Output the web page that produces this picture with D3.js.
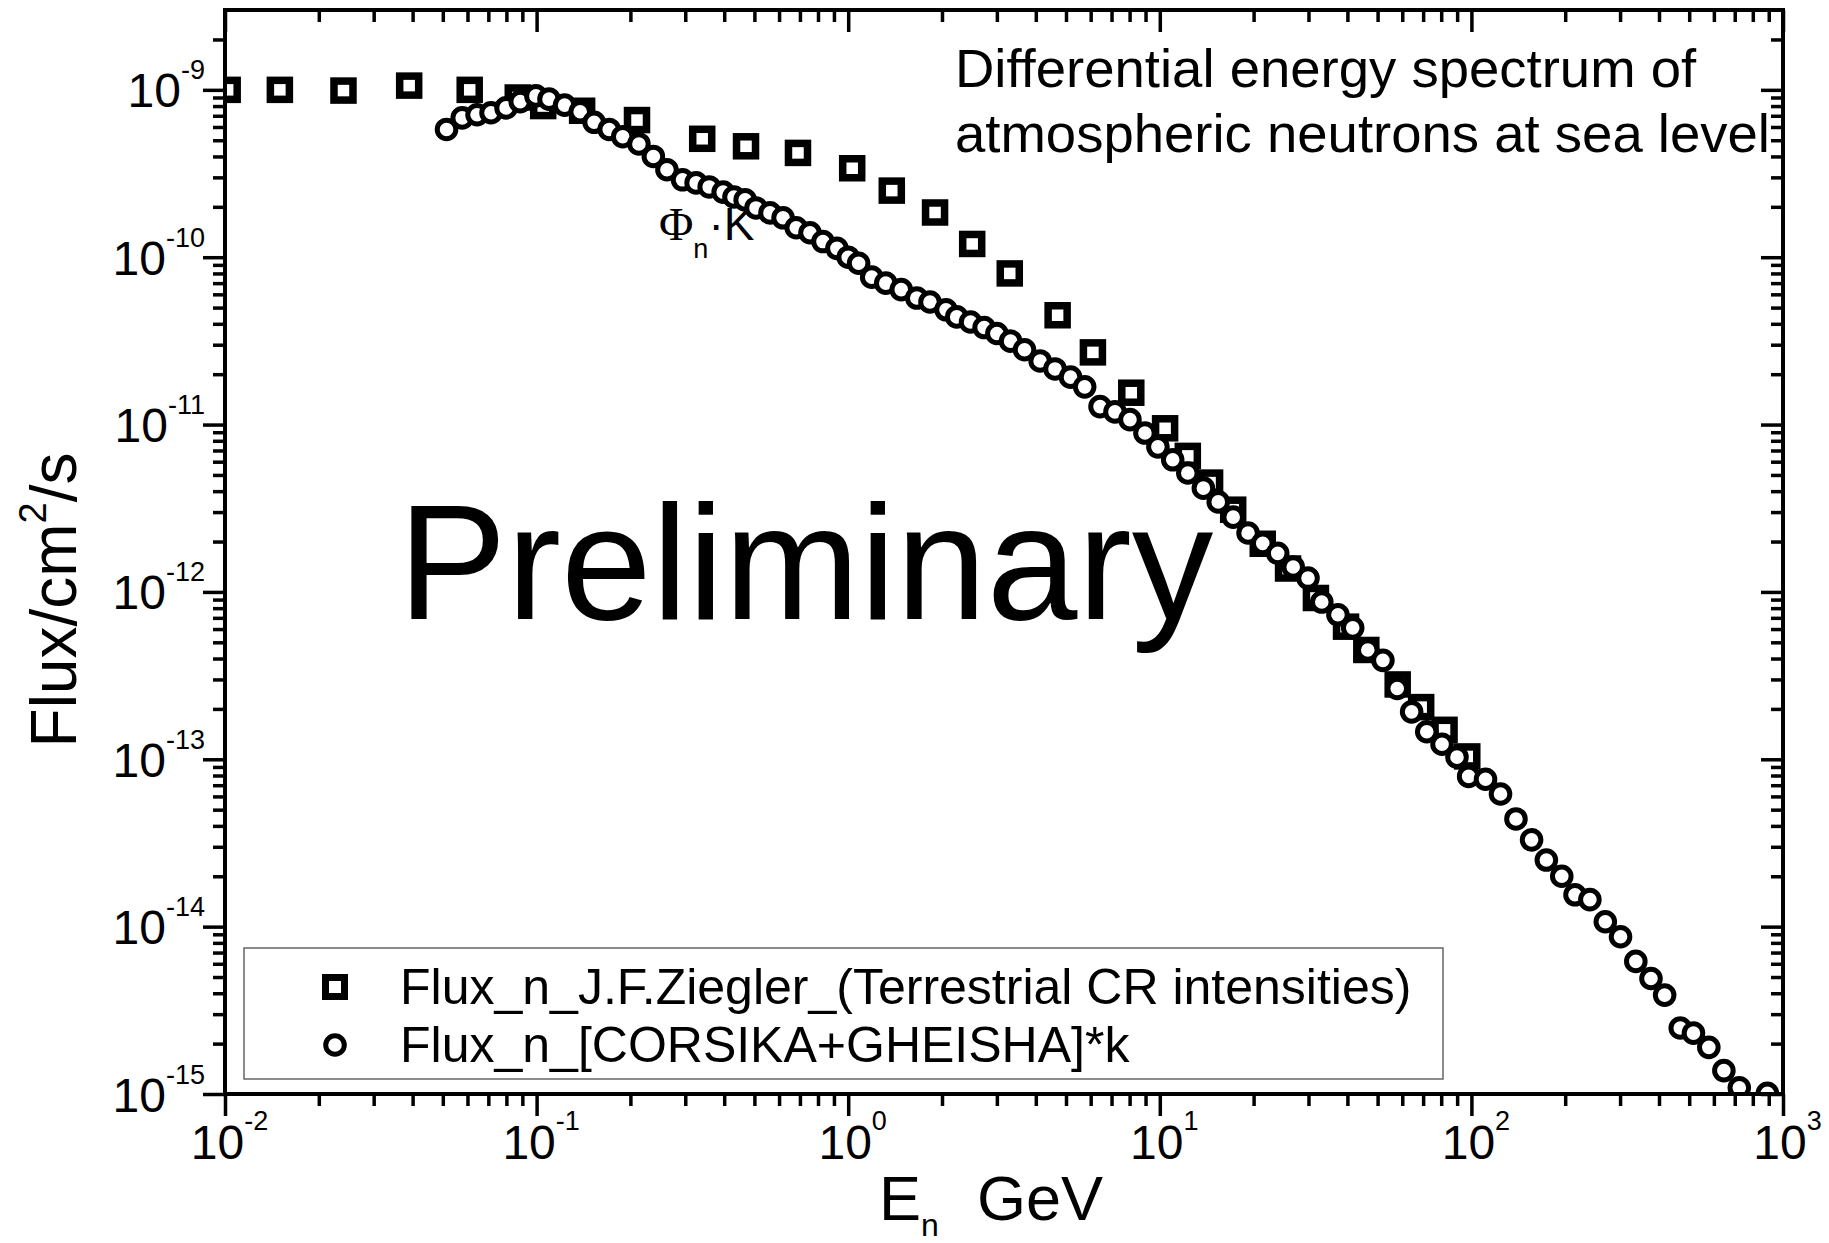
<html><head>
<title>Neutron spectrum at sea level</title>
<script src="https://d3js.org/d3.v7.min.js"></script>
<style>
  body { margin: 0; background: #fff; }
  text { font-family: "Liberation Sans", Arial, sans-serif; fill: #000; }
</style>
</head>
<body>
<svg id="chart" width="1829" height="1243"></svg>
<script>

// Ziegler points (squares)
const zieglerE    = [0.0102, 0.015, 0.024, 0.039, 0.061, 0.087, 0.105, 0.14, 0.21, 0.34, 0.47, 0.69, 1.03, 1.38, 1.9, 2.5, 3.3, 4.7, 6.1, 8.1, 10.4, 12.3, 14.5, 17.2, 21.4, 25.8, 31.7, 39.6, 46, 58, 69, 82, 97];
const zieglerFlux = [1.0e-9, 1.0e-9, 0.99e-9, 1.06e-9, 1.0e-9, 0.9e-9, 0.8e-9, 0.75e-9, 0.66e-9, 5.1e-10, 4.6e-10, 4.2e-10, 3.4e-10, 2.5e-10, 1.85e-10, 1.2e-10, 8.0e-11, 4.5e-11, 2.7e-11, 1.55e-11, 9.5e-12, 6.5e-12, 4.5e-12, 3.1e-12, 1.94e-12, 1.38e-12, 9.2e-13, 6.2e-13, 4.5e-13, 2.8e-13, 2.05e-13, 1.5e-13, 1.04e-13];

// CORSIKA+GHEISHA points (circles)
const corsikaE = [0.0514, 0.0577, 0.0644, 0.0714, 0.0798, 0.0886, 0.0995, 0.1096, 0.123, 0.138,
  0.153, 0.171, 0.189, 0.213, 0.237, 0.262, 0.294, 0.325, 0.358, 0.397,
  0.43, 0.467, 0.506, 0.561, 0.618, 0.681, 0.754, 0.83, 0.92, 1.0,
  1.08, 1.19, 1.32, 1.48, 1.66, 1.83, 2.06, 2.23, 2.47, 2.73,
  3.0, 3.32, 3.68, 4.13, 4.61, 5.17, 5.74, 6.43, 7.18, 8.02,
  8.96, 9.86, 11.0, 12.3, 13.8, 15.4, 17.2, 19.2, 21.4, 23.9,
  26.8, 29.9, 33.1, 37.3, 41.6, 46.5, 52, 57.8, 64.3, 71.9,
  80.5, 89.9, 98, 111, 124, 139, 156, 174, 195, 215,
  240, 269, 301, 337, 377, 417, 468, 516, 578, 646, 724, 891];
const corsikaFlux = [5.8e-10, 6.8e-10, 7.1e-10, 7.3e-10, 7.8e-10, 8.5e-10, 9.2e-10, 8.8e-10, 8.1e-10, 7.4e-10,
  6.4e-10, 5.8e-10, 5.25e-10, 4.75e-10, 4.0e-10, 3.33e-10, 2.9e-10, 2.78e-10, 2.63e-10, 2.45e-10,
  2.29e-10, 2.2e-10, 1.97e-10, 1.84e-10, 1.72e-10, 1.5e-10, 1.4e-10, 1.24e-10, 1.13e-10, 1.0e-10,
  9.2e-11, 7.6e-11, 7.0e-11, 6.4e-11, 5.7e-11, 5.4e-11, 4.85e-11, 4.4e-11, 4.1e-11, 3.8e-11,
  3.5e-11, 3.15e-11, 2.8e-11, 2.4e-11, 2.15e-11, 1.92e-11, 1.68e-11, 1.28e-11, 1.19e-11, 1.07e-11,
  8.9e-12, 7.36e-12, 6.16e-12, 5.14e-12, 4.17e-12, 3.45e-12, 2.8e-12, 2.25e-12, 1.95e-12, 1.7e-12,
  1.41e-12, 1.21e-12, 8.7e-13, 7.3e-13, 6.1e-13, 4.5e-13, 3.9e-13, 2.65e-13, 1.92e-13, 1.46e-13,
  1.23e-13, 1.03e-13, 7.9e-14, 7.6e-14, 6.2e-14, 4.4e-14, 3.3e-14, 2.5e-14, 2.0e-14, 1.55e-14,
  1.45e-14, 1.07e-14, 8.7e-15, 6.2e-15, 4.9e-15, 3.9e-15, 2.48e-15, 2.31e-15, 1.9e-15, 1.38e-15, 1.09e-15, 1.01e-15];

// axis decades (exponents)
const xExps = [-2, -1, 0, 1, 2, 3];
const yExps = [-15, -14, -13, -12, -11, -10, -9];

const legendLabels = ["Flux_n_J.F.Ziegler_(Terrestrial CR intensities)", "Flux_n_[CORSIKA+GHEISHA]*k"];
const titleLines = ["Differential energy spectrum of", "atmospheric neutrons at sea level"];

const svg = d3.select("#chart");
const pLeft = 225, pRight = 1783, pTop = 10, pBottom = 1094;

const x = d3.scaleLog().domain([1e-2, 1e3]).range([pLeft, pRight]);
const y = d3.scaleLog().domain([1e-15, 3e-9]).range([pBottom, pTop]);

const xMajor = xExps.map(e => Math.pow(10, e));
const yMajor = yExps.map(e => Math.pow(10, e));
const xMinor = [], yMinor = [];
xExps.slice(0, -1).forEach(e => { for (let m = 2; m <= 9; m++) xMinor.push(m * Math.pow(10, e)); });
yExps.forEach(e => { for (let m = 2; m <= 9; m++) { let v = m * Math.pow(10, e); if (v < 2.9e-9) yMinor.push(v); } });

svg.append("defs").append("clipPath").attr("id", "plotclip")
   .append("rect").attr("x", pLeft).attr("y", pTop).attr("width", pRight - pLeft).attr("height", pBottom - pTop);

// "Preliminary" watermark
svg.append("text").attr("x", 398).attr("y", 619).attr("font-size", 163).text("Preliminary");

// title in the upper right
svg.append("g").selectAll("text").data(titleLines).join("text")
   .attr("x", 955).attr("y", (d, i) => 87 + i * 65)
   .attr("font-size", 54.5).text(d => d);

// Phi_n * K label
const phi = svg.append("text").attr("x", 659).attr("y", 240);
phi.append("tspan").attr("font-family", "'Liberation Serif', 'Times New Roman', serif").attr("font-size", 47).text("\u03A6");
phi.append("tspan").attr("font-size", 27).attr("dy", 18).text("n");
phi.append("tspan").attr("font-size", 46).attr("dy", -18).text("\u00B7K");

// data layer
const layer = svg.append("g").attr("clip-path", "url(#plotclip)");

layer.selectAll("rect.ziegler").data(zieglerE).join("rect")
   .attr("class", "ziegler")
   .attr("x", d => x(d) - 9.5).attr("y", (d, i) => y(zieglerFlux[i]) - 9.5)
   .attr("width", 19).attr("height", 19)
   .attr("fill", "#fff").attr("stroke", "#000").attr("stroke-width", 7.5);

layer.selectAll("circle.corsika").data(corsikaE).join("circle")
   .attr("class", "corsika")
   .attr("cx", d => x(d)).attr("cy", (d, i) => y(corsikaFlux[i]))
   .attr("r", 9.3)
   .attr("fill", "#fff").attr("stroke", "#000").attr("stroke-width", 5);

// axes: bottom/left ticks outside, top/right ticks inside
function ticks(axis, tr, size) {
  const g = svg.append("g").attr("transform", tr).call(axis.tickSize(size).tickFormat(""));
  g.select(".domain").remove();
  g.selectAll(".tick line").attr("stroke-width", 3.5);
  return g;
}
const xb = ticks(d3.axisBottom(x).tickValues(xMajor), `translate(0,${pBottom})`, 22);
ticks(d3.axisBottom(x).tickValues(xMinor), `translate(0,${pBottom})`, 12);
ticks(d3.axisBottom(x).tickValues(xMajor), `translate(0,${pTop})`, 22);
ticks(d3.axisBottom(x).tickValues(xMinor), `translate(0,${pTop})`, 12);
const yl = ticks(d3.axisLeft(y).tickValues(yMajor), `translate(${pLeft},0)`, 22);
ticks(d3.axisLeft(y).tickValues(yMinor), `translate(${pLeft},0)`, 12);
ticks(d3.axisLeft(y).tickValues(yMajor), `translate(${pRight},0)`, 22);
ticks(d3.axisLeft(y).tickValues(yMinor), `translate(${pRight},0)`, 12);

// power-of-ten labels
xb.selectAll(".tick text").remove();
xb.selectAll(".tick").each(function(d, i) {
  const t = d3.select(this).append("text").attr("x", 4).attr("y", 65)
     .attr("text-anchor", "middle").attr("font-size", 48);
  t.append("tspan").text("10");
  t.append("tspan").attr("font-size", 27).attr("dy", -29).text(xExps[i]);
});
yl.selectAll(".tick text").remove();
yl.selectAll(".tick").each(function(d, i) {
  const t = d3.select(this).append("text").attr("x", -20).attr("y", 17)
     .attr("text-anchor", "end").attr("font-size", 48);
  t.append("tspan").text("10");
  t.append("tspan").attr("font-size", 27).attr("dy", -28).text(yExps[i]);
});

// frame
svg.append("rect").attr("x", pLeft).attr("y", pTop).attr("width", pRight - pLeft).attr("height", pBottom - pTop)
   .attr("fill", "none").attr("stroke", "#000").attr("stroke-width", 4);

// axis titles
const xt = svg.append("text").attr("y", 1220).attr("font-size", 63);
xt.append("tspan").attr("x", 879).text("E");
xt.append("tspan").attr("font-size", 32).attr("dy", 16).text("n");
xt.append("tspan").attr("x", 977).attr("dy", -16).text("GeV");

const yt = svg.append("text").attr("transform", "translate(76,600) rotate(-90)")
   .attr("text-anchor", "middle").attr("font-size", 64);
yt.append("tspan").text("Flux/cm");
yt.append("tspan").attr("font-size", 38).attr("dy", -30).text("2");
yt.append("tspan").attr("dy", 30).text("/s");

// legend
const legend = svg.append("g");
legend.append("rect").attr("x", 244).attr("y", 948).attr("width", 1199).attr("height", 131)
   .attr("fill", "#fff").attr("stroke", "#666").attr("stroke-width", 1.5);
legend.append("rect").attr("x", 335 - 9.5).attr("y", 987 - 9.5).attr("width", 19).attr("height", 19)
   .attr("fill", "#fff").attr("stroke", "#000").attr("stroke-width", 7);
legend.append("circle").attr("cx", 335).attr("cy", 1045).attr("r", 9.3)
   .attr("fill", "#fff").attr("stroke", "#000").attr("stroke-width", 5);
legend.selectAll("text").data(legendLabels).join("text")
   .attr("x", 400).attr("y", (d, i) => 1004 + i * 58)
   .attr("font-size", 50).text(d => d);

</script>
</body>
</html>
